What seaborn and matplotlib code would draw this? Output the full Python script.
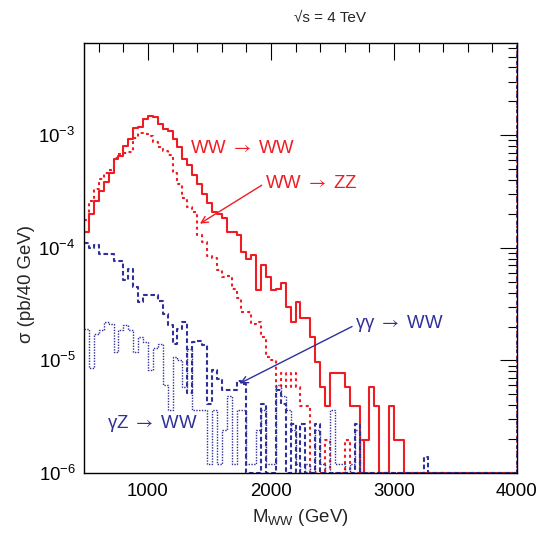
import numpy as np
import pandas as pd
import matplotlib
matplotlib.use("Agg")
import matplotlib.pyplot as plt
import seaborn as sns
from matplotlib.ticker import FixedLocator, MultipleLocator, LogLocator, NullFormatter, LogFormatterMathtext

# ---------------- data (sigma per 40 GeV bin, bins start at 480 GeV) ----------------
bin_low = 480
bin_width = 40
n_bins = 88
bin_edges = bin_low + bin_width * np.arange(n_bins + 1)

ww_ww = [1.38e-4, 2.0e-4, 2.6e-4, 3.2e-4, 3.85e-4, 4.6e-4, 6.1e-4, 6.6e-4, 8.1e-4, 9.3e-4,
         1.15e-3, 1.19e-3, 1.39e-3, 1.49e-3, 1.46e-3, 1.27e-3, 1.13e-3, 1.10e-3, 9.3e-4, 7.9e-4,
         6.2e-4, 5.4e-4, 4.4e-4, 3.66e-4, 3.0e-4,
         2.5e-4, 2.1e-4, 2.0e-4, 1.85e-4, 1.38e-4, 1.38e-4, 1.30e-4, 9.2e-5, 8.0e-5, 8.6e-5,
         4.2e-5, 7.0e-5, 5.5e-5, 4.2e-5, 4.3e-5, 4.9e-5, 3.0e-5, 2.2e-5, 3.3e-5, 2.4e-5,
         2.4e-5, 1.6e-5, 9.7e-6, 5.8e-6, 3.9e-6,
         7.8e-6, 7.8e-6, 7.8e-6, 5.8e-6, 3.9e-6, 3.9e-6, 0.0, 1.95e-6, 5.8e-6, 3.9e-6,
         0.0, 0.0, 3.9e-6, 1.95e-6, 1.95e-6,
         0.0, 0.0, 0.0, 0.0, 0.0, 0.0, 0.0, 0.0, 0.0, 0.0, 0.0, 0.0,
         0.0, 0.0, 0.0, 0.0, 0.0, 0.0, 0.0, 0.0, 0.0, 0.0, 0.0]

ww_zz = [1.75e-4, 2.6e-4, 3.3e-4, 4.1e-4, 4.6e-4, 4.9e-4, 6.3e-4, 6.8e-4, 7.0e-4, 7.1e-4,
         9.4e-4, 1.05e-3, 1.03e-3, 9.8e-4, 8.8e-4, 7.9e-4, 7.3e-4, 6.7e-4, 4.6e-4, 3.7e-4,
         2.8e-4, 2.3e-4, 2.1e-4, 1.3e-4, 1.12e-4,
         8.4e-5, 8.2e-5, 6.4e-5, 5.5e-5, 5.6e-5, 4.3e-5, 3.6e-5, 2.7e-5, 2.7e-5, 2.1e-5,
         2.2e-5, 1.6e-5, 1.07e-5, 1.0e-5, 5.8e-6, 7.8e-6, 5.8e-6, 7.8e-6, 5.8e-6, 3.9e-6,
         3.9e-6, 0.0, 0.0, 0.0, 1.95e-6,
         0.0, 0.0, 0.0, 1.95e-6, 0.0, 0.0, 1.95e-6, 0.0, 0.0, 0.0,
         0.0, 0.0, 0.0, 0.0, 0.0,
         0.0, 0.0, 0.0, 0.0, 0.0, 0.0, 0.0, 0.0, 0.0, 0.0, 0.0, 0.0,
         0.0, 0.0, 0.0, 0.0, 0.0, 0.0, 0.0, 0.0, 0.0, 0.0, 0.0]

aa_ww = [1.1e-4, 1.0e-4, 1.07e-4, 8.9e-5, 8.9e-5, 8.9e-5, 7.7e-5, 7.7e-5, 5.2e-5, 6.5e-5,
         4.5e-5, 3.3e-5, 3.8e-5, 3.8e-5, 3.8e-5, 3.4e-5, 2.6e-5, 2.05e-5, 1.4e-5, 1.9e-5,
         2.2e-5, 5.1e-6, 1.46e-5, 1.5e-5, 1.36e-5,
         4.1e-6, 8.2e-6, 6.9e-6, 5.5e-6, 5.5e-6, 5.5e-6, 6.6e-6, 6.2e-6, 0.0, 0.0,
         0.0, 4.1e-6, 0.0, 0.0, 5.5e-6, 4.1e-6, 0.0, 2.7e-6, 0.0, 2.7e-6,
         0.0, 0.0, 2.7e-6, 0.0, 0.0,
         0.0, 0.0, 0.0, 0.0, 0.0, 2.7e-6, 0.0, 0.0, 0.0, 0.0,
         0.0, 0.0, 0.0, 0.0, 0.0, 0.0, 0.0, 0.0, 0.0, 1.4e-6,
         0.0, 0.0, 0.0, 0.0, 0.0, 0.0, 0.0, 0.0, 0.0, 0.0,
         0.0, 0.0, 0.0, 0.0, 0.0, 0.0, 0.0, 0.0]

az_ww = [1.9e-5, 8.5e-6, 1.7e-5, 1.85e-5, 2.2e-5, 2.1e-5, 1.18e-5, 1.85e-5, 2.05e-5, 1.85e-5,
         1.18e-5, 1.6e-5, 1.46e-5, 8.2e-6, 1.3e-5, 1.4e-5, 6.0e-6, 3.6e-6, 1.07e-5, 1.0e-5,
         5.8e-6, 1.27e-5, 3.6e-6, 3.6e-6, 3.6e-6,
         1.2e-6, 3.6e-6, 1.2e-6, 2.4e-6, 4.8e-6, 1.2e-6, 3.6e-6, 3.6e-6, 1.2e-6, 1.2e-6,
         2.4e-6, 3.6e-6, 1.2e-6, 1.2e-6, 6.0e-6, 4.8e-6, 3.6e-6, 2.4e-6, 1.2e-6, 0.0,
         1.2e-6, 0.0, 2.4e-6, 1.2e-6, 0.0,
         3.6e-6, 1.2e-6, 1.2e-6, 0.0, 1.2e-6, 2.4e-6, 0.0, 0.0, 0.0, 0.0,
         0.0, 0.0, 0.0, 0.0, 0.0, 0.0, 0.0, 0.0, 0.0, 0.0,
         0.0, 0.0, 0.0, 0.0, 0.0, 0.0, 0.0, 0.0, 0.0, 0.0,
         0.0, 0.0, 0.0, 0.0, 0.0, 0.0, 0.0, 0.0]

process_names = ["WW → WW", "WW → ZZ", "γγ → WW", "γZ → WW"]
process_labels = ["WW $\\mathrm{\\rightarrow}$ WW", "WW $\\mathrm{\\rightarrow}$ ZZ",
                  "γγ $\\mathrm{\\rightarrow}$ WW", "γZ $\\mathrm{\\rightarrow}$ WW"]
x_ticks = [1000, 2000, 3000, 4000]
title_text = "√s = 4 TeV"
x_label = "M$_{WW}$ (GeV)"
y_label = "σ (pb/40 GeV)"

y_min, y_max = 1e-6, 6.6e-3

# ---------------- styling ----------------
RED = "#ee1d24"
BLUE = "#30309a"

sns.set_style("white")
plt.rcParams["font.family"] = ["Liberation Sans", "DejaVu Sans"]
plt.rcParams["mathtext.fontset"] = "stixsans"
plt.rcParams["mathtext.default"] = "regular"

FS = 13.4

fig = plt.figure(figsize=(5.37, 5.38), dpi=100)
fig.patch.set_facecolor("white")
ax = fig.add_axes([84 / 537, 65 / 538, 433 / 537, 430 / 538])
ax.set_yscale("log")
ax.set_xlim(bin_edges[0], bin_edges[-1])
ax.set_ylim(y_min, y_max)

frames = []
for name, vals in zip(process_names, [ww_ww, ww_zz, aa_ww, az_ww]):
    v = np.clip(np.append(np.asarray(vals, float), vals[-1]), y_min, None)
    frames.append(pd.DataFrame({"mass": bin_edges, "sigma": v, "process": name}))
df = pd.concat(frames, ignore_index=True)

palette = {process_names[0]: RED, process_names[1]: RED,
           process_names[2]: BLUE, process_names[3]: BLUE}
dashes = {process_names[0]: "", process_names[1]: (1.4, 1.6),
          process_names[2]: (2.2, 1.3), process_names[3]: (1.0, 1.0)}
widths = {process_names[0]: 1.5, process_names[1]: 1.5,
          process_names[2]: 1.5, process_names[3]: 1.0}

sns.lineplot(data=df, x="mass", y="sigma", hue="process", style="process",
             size="process", palette=palette, dashes=dashes, sizes=widths,
             hue_order=process_names, style_order=process_names, size_order=process_names,
             drawstyle="steps-post", estimator=None, sort=False, legend=False, ax=ax)

# histogram outline continuing along the frame edges
ax.vlines(bin_edges[0], ww_ww[0], y_max, color=RED, lw=1.5, zorder=2)
ax.axvline(bin_edges[-1], color=RED, lw=1.2, dashes=(1.4, 1.6), zorder=2)
ax.axvline(bin_edges[-1], color=BLUE, lw=1.2, dashes=(2.2, 2.6), zorder=2)

# ---------------- axes / ticks ----------------
for s in ax.spines.values():
    s.set_color("black")
    s.set_linewidth(1.0)
ax.xaxis.set_major_locator(FixedLocator(x_ticks))
ax.xaxis.set_minor_locator(MultipleLocator(200))
ax.yaxis.set_major_locator(LogLocator(base=10, numticks=10))
ax.yaxis.set_minor_locator(LogLocator(base=10, subs=np.arange(2, 10), numticks=20))
ax.yaxis.set_major_formatter(LogFormatterMathtext())
ax.yaxis.set_minor_formatter(NullFormatter())
ax.tick_params(which="both", direction="in", top=True, right=True, width=0.8,
               colors="black", labelsize=FS)
ax.tick_params(which="major", length=12.2)
ax.tick_params(which="minor", length=6.5)
ax.tick_params(axis="x", which="major", pad=7.5)
ax.tick_params(axis="y", which="major", pad=6.0)

ax.set_xlabel(x_label, fontsize=FS)
ax.set_ylabel(y_label, fontsize=FS)
ax.xaxis.set_label_coords(0.5, -0.08)
ax.yaxis.set_label_coords(-0.113, 0.44)

fig.text(330 / 537, 1 - 18 / 538, title_text, ha="center", va="center", fontsize=11)

# ---------------- annotations ----------------
ax.text(1340, 7.66e-4, process_labels[0], color=RED, fontsize=FS, ha="left", va="center")
ax.text(1949, 3.74e-4, process_labels[1], color=RED, fontsize=FS, ha="left", va="center")
ax.text(2683, 2.13e-5, process_labels[2], color=BLUE, fontsize=FS, ha="left", va="center")
ax.text(664, 2.75e-6, process_labels[3], color=BLUE, fontsize=FS, ha="left", va="center")

ax.annotate("", xy=(1422, 1.64e-4), xytext=(1925, 3.6e-4),
            arrowprops=dict(arrowstyle="->", color=RED, lw=1.0, shrinkA=0, shrinkB=0,
                            mutation_scale=12))
ax.annotate("", xy=(1747, 6.25e-6), xytext=(2659, 2.0e-5),
            arrowprops=dict(arrowstyle="->", color=BLUE, lw=1.0, shrinkA=0, shrinkB=0,
                            mutation_scale=12))

fig.savefig("out.png", dpi=100, facecolor="white")
